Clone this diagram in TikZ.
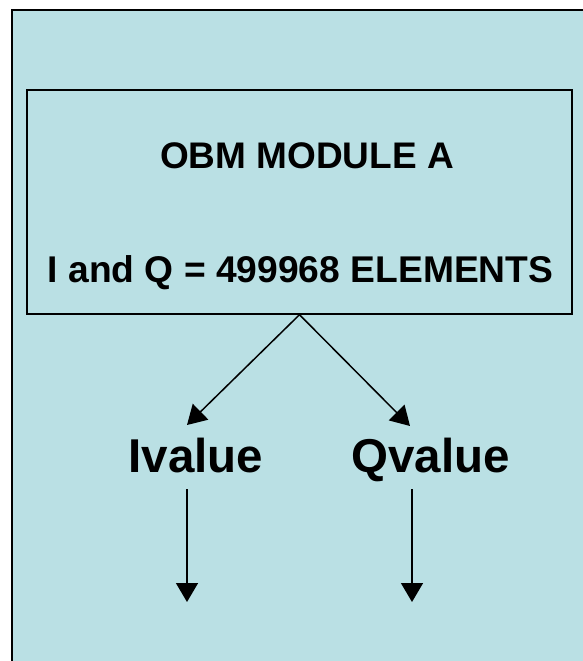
\documentclass[tikz,border=0pt]{standalone}
\usepackage{fontspec}
\setmainfont{Liberation Sans}
\usetikzlibrary{arrows.meta}
\definecolor{bgcyan}{RGB}{186,224,228}
\begin{document}
\begin{tikzpicture}[x=1pt,y=-1pt,
  modtext/.style={font=\fontsize{37}{40}\selectfont\bfseries, inner sep=0pt, anchor=base},
  valtext/.style={font=\fontsize{47.5}{52}\selectfont\bfseries, inner sep=0pt, anchor=base},
  arr/.style={line width=1.5pt, -{Triangle[length=19pt,width=22pt]}}]
\useasboundingbox (0,0) rectangle (583,661);
\clip (0,0) rectangle (583,661);
\path[draw=black, line width=2pt, fill=bgcyan] (11.5,10.5) rectangle (610,690);
\node[draw, line width=1.4pt, minimum width=545pt, minimum height=224pt, inner sep=0pt] (mod) at (299.5,202) {};
\node[modtext] (title) at (307,168) {OBM MODULE A};
\node[modtext, font=\fontsize{37.2}{40}\selectfont\bfseries] (count) at (300.5,282) {I and Q = 499968 ELEMENTS};
\node[valtext] (ival) at (196,472) {Ivalue};
\node[valtext] (qval) at (430.5,472) {Qvalue};
\coordinate (itip) at (187,425);
\coordinate (qtip) at (410,426);
\coordinate (istart) at (187,489);
\coordinate (iend) at (187,602);
\coordinate (qstart) at (412,489);
\coordinate (qend) at (412,602);
\draw[arr] (mod.south) -- (itip);
\draw[arr] (mod.south) -- (qtip);
\draw[arr] (istart) -- (iend);
\draw[arr] (qstart) -- (qend);
\end{tikzpicture}
\end{document}
